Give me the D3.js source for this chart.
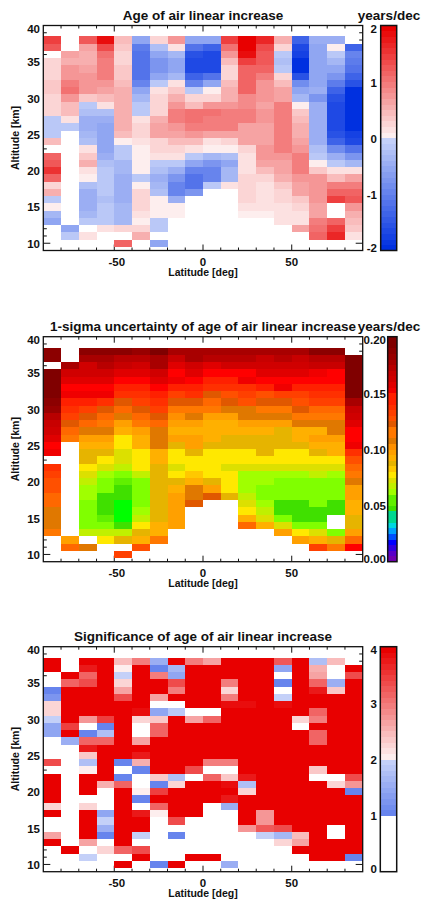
<!DOCTYPE html>
<html>
<head>
<meta charset="utf-8">
<script src="https://cdn.jsdelivr.net/npm/d3@7/dist/d3.min.js"></script>
<style>
  body { margin: 0; background: #fff; }
  svg text { font-family: "Liberation Sans", Arial, Helvetica, sans-serif; font-weight: bold; fill: #111; }
</style>
</head>
<body>
<svg id="chart" width="423" height="899"></svg>
<script>
// Latitude bins (lower edges, 10 deg wide) and altitude levels (1 km, top to bottom)
const latBins = d3.range(-90, 90, 10);
const altitudes = d3.range(38, 9, -1);   // 38 km ... 10 km
const latTicks = [-50, 0, 50];
const altTicks = [10, 15, 20, 25, 30, 35, 40];
const trendTicks = [-2, -1, 0, 1, 2];
const sigmaTicks = [0, 0.05, 0.10, 0.15, 0.20];
const signifTicks = [0, 1, 2, 3, 4];

// Age of air linear increase [years/dec]; one array per latitude bin, 38 km -> 10 km
const N = null;
const trend = [
  [1.45,1.25,N,0.2,0.2,0.2,0.35,0.35,0.25,0.2,0.2,-0.15,-0.15,-0.15,0.45,N,1.1,1.2,1.5,1.15,0.2,0.5,-0.15,0.05,-0.35,-0.55,N,N,N],
  [N,N,0.65,0.5,0.7,0.75,0.95,1.05,0.75,0.45,0.45,0.15,-0.15,N,N,N,N,N,N,N,N,N,N,N,N,N,-0.6,-0.15],
  [1.25,0.65,0.5,0.5,0.6,0.7,0.75,0.75,0.3,-0.15,-0.25,-0.45,-0.45,-0.35,-0.25,0.15,0.35,0.5,0.15,0.05,-0.25,-0.45,-0.45,-0.45,-0.35,-0.15,N,0.15,N],
  [1.8,1.3,1.05,0.9,0.9,0.9,0.75,0.65,0.4,0.15,-0.25,-0.45,-0.55,-0.55,-0.55,-0.55,-0.45,-0.3,-0.2,-0.2,-0.2,-0.2,-0.25,-0.2,-0.2,-0.2,0.15,N,N],
  [0.45,0.3,0.25,0.25,0.35,0.35,0.45,0.5,0.5,0.5,0.5,0.5,0.5,0.4,0.05,-0.2,-0.2,-0.35,-0.35,-0.45,-0.45,-0.45,-0.45,-0.35,-0.35,-0.35,0.25,N,1.1],
  [-0.55,-1.05,-1.2,-1.2,-1.2,-1.2,-0.95,-0.55,-0.35,-0.15,-0.15,0.15,0.25,0.25,0.15,0.05,0.05,0.05,0.05,-0.15,0.05,0.2,0.2,0.2,0.15,0.05,0.2,0.5,N],
  [0.25,-0.25,-0.55,-0.75,-0.75,-0.55,-0.15,0.15,0.2,0.25,0.25,0.5,0.6,0.6,0.25,0.25,0.15,-0.15,-0.25,-0.45,-0.35,-0.25,0.05,0.05,0.05,-0.15,-0.15,N,-0.55],
  [0.7,0.15,-0.35,-0.55,-0.55,-0.35,0.15,0.35,0.5,0.75,0.9,0.9,0.75,0.65,0.45,0.25,0.15,-0.15,-0.45,-0.75,-0.95,-0.95,-0.45,0.05,0.05,N,N,N,N],
  [-0.55,-1.2,-1.6,-1.7,-1.7,-1.4,-0.95,-0.15,0.25,0.45,1.0,1.05,0.9,0.75,0.45,0.15,-0.15,-0.55,-0.95,-1.2,-1.2,-0.75,N,N,N,N,N,N,N],
  [-0.55,-1.4,-1.7,-1.7,-1.7,-1.2,-0.55,0.05,0.25,0.7,1.05,0.95,0.9,0.65,0.15,0.05,-0.35,-0.75,-0.95,-0.95,-0.15,N,N,N,N,N,N,N,N],
  [1.45,1.05,0.7,0.45,0.25,0.25,0.45,0.5,0.5,0.75,0.9,0.9,0.9,0.65,0.2,0.05,-0.3,-0.55,-0.35,-0.35,0.15,N,N,N,N,N,N,N,N],
  [1.95,1.95,1.8,1.45,1.15,1.15,1.15,1.15,0.8,0.8,0.9,0.9,0.65,0.65,0.6,0.25,0.15,0.15,0.15,0.25,0.25,0.25,0.25,0.15,0.05,N,N,N,N],
  [1.65,1.35,1.25,1.25,1.15,0.9,0.75,0.75,0.75,0.65,0.75,0.75,0.65,0.65,0.65,0.75,0.7,0.6,0.45,0.25,0.15,0.15,0.15,0.15,0.05,N,N,N,N],
  [0.5,0.2,-0.2,-0.25,-0.15,0.2,0.45,0.6,0.65,0.9,0.9,0.9,0.9,0.9,0.9,0.9,0.75,0.65,0.65,0.5,0.35,0.25,0.25,0.15,0.15,0.15,N,N,N],
  [-1.4,-1.7,-1.75,-1.95,-1.95,-1.6,-0.85,-0.55,-0.35,0.05,0.35,0.45,0.5,0.5,0.65,0.75,0.9,0.9,0.9,0.75,0.65,0.65,0.35,0.2,0.15,0.15,0.6,N,N],
  [-0.45,-0.55,-0.55,-0.55,-0.55,-0.55,-0.55,-0.45,-0.75,-0.45,-0.45,-0.45,-0.45,-0.45,-0.45,-0.25,-0.15,0.05,0.35,0.7,0.7,0.75,0.75,0.65,0.65,0.9,1.05,1.1,N],
  [-0.45,0.05,-0.2,-0.35,-0.55,-0.75,-1.05,-1.4,-1.6,-1.7,-1.7,-1.7,-1.7,-1.6,-1.4,-0.85,-0.45,-0.15,0.15,0.45,0.95,1.15,1.45,N,N,1.15,1.45,1.6,N],
  [N,-1.4,-0.95,-1.05,-1.2,-1.4,-1.6,-1.95,-1.95,-1.95,-1.95,-1.95,-1.95,-1.8,-1.7,-1.2,-0.75,-0.35,0.15,0.65,0.95,1.15,1.25,0.75,0.5,0.45,0.35,0.15,N]
];

// 1-sigma uncertainty of the increase [years/dec]
const sigma = [
  [0.19,0.19,N,0.195,0.195,0.195,0.195,0.19,0.185,0.175,0.17,0.165,0.16,0.15,0.155,N,0.14,0.135,0.13,0.13,0.12,0.12,0.11,0.11,0.11,0.115,N,N,N],
  [N,N,0.18,0.165,0.16,0.15,0.155,0.145,0.14,0.135,0.125,0.12,0.115,N,N,N,N,N,N,N,N,N,N,N,N,N,0.1,0.12],
  [0.19,0.18,0.165,0.165,0.16,0.15,0.155,0.145,0.135,0.125,0.12,0.11,0.1,0.095,0.09,0.09,0.08,0.075,0.07,0.065,0.065,0.06,0.06,0.06,0.06,0.07,N,0.11,N],
  [0.19,0.18,0.175,0.165,0.16,0.15,0.155,0.14,0.125,0.12,0.115,0.11,0.1,0.095,0.09,0.08,0.075,0.065,0.06,0.06,0.05,0.05,0.05,0.055,0.06,0.07,0.08,N,N],
  [0.19,0.175,0.17,0.16,0.15,0.145,0.14,0.125,0.12,0.11,0.1,0.095,0.08,0.08,0.075,0.075,0.07,0.06,0.055,0.05,0.05,0.045,0.045,0.045,0.05,0.07,0.09,N,0.135],
  [0.185,0.175,0.165,0.16,0.15,0.145,0.14,0.135,0.125,0.12,0.115,0.1,0.095,0.095,0.08,0.08,0.08,0.07,0.06,0.06,0.06,0.06,0.065,0.07,0.08,0.09,0.095,0.13,N],
  [0.195,0.18,0.18,0.165,0.16,0.15,0.145,0.14,0.135,0.125,0.12,0.11,0.11,0.11,0.095,0.095,0.09,0.09,0.09,0.09,0.09,0.09,0.09,0.09,0.095,0.095,0.115,N,N],
  [0.18,0.17,0.16,0.15,0.155,0.145,0.135,0.125,0.115,0.105,0.1,0.095,0.1,0.09,0.08,0.08,0.075,0.08,0.09,0.095,0.1,0.1,0.1,0.1,0.1,N,N,N,N],
  [0.18,0.18,0.165,0.16,0.15,0.145,0.14,0.125,0.115,0.11,0.1,0.095,0.1,0.1,0.09,0.08,0.08,0.085,0.095,0.11,0.11,0.125,N,N,N,N,N,N,N],
  [0.18,0.175,0.16,0.15,0.145,0.14,0.125,0.12,0.115,0.1,0.095,0.095,0.095,0.09,0.08,0.08,0.08,0.08,0.09,0.1,0.125,N,N,N,N,N,N,N,N],
  [0.18,0.175,0.165,0.15,0.145,0.14,0.13,0.125,0.11,0.1,0.095,0.095,0.09,0.09,0.08,0.08,0.075,0.08,0.08,0.08,0.09,N,N,N,N,N,N,N,N],
  [0.18,0.175,0.165,0.15,0.155,0.14,0.135,0.13,0.11,0.11,0.1,0.095,0.09,0.09,0.08,0.08,0.075,0.065,0.065,0.065,0.07,0.075,0.08,0.095,0.12,N,N,N,N],
  [0.18,0.17,0.165,0.16,0.15,0.145,0.13,0.125,0.115,0.11,0.1,0.095,0.09,0.09,0.09,0.08,0.075,0.065,0.065,0.06,0.06,0.065,0.07,0.075,0.095,N,N,N,N],
  [0.18,0.175,0.165,0.16,0.15,0.155,0.135,0.125,0.115,0.11,0.1,0.09,0.09,0.09,0.08,0.08,0.075,0.065,0.06,0.06,0.06,0.05,0.05,0.06,0.075,0.1,N,N,N],
  [0.18,0.17,0.165,0.16,0.15,0.145,0.135,0.13,0.125,0.115,0.11,0.095,0.095,0.09,0.08,0.08,0.075,0.065,0.06,0.06,0.06,0.05,0.05,0.05,0.06,0.08,0.1,N,N],
  [0.19,0.175,0.17,0.155,0.15,0.145,0.14,0.135,0.12,0.115,0.11,0.095,0.1,0.095,0.09,0.08,0.075,0.07,0.06,0.06,0.06,0.06,0.05,0.05,0.06,0.075,0.095,0.135,N],
  [0.19,0.175,0.17,0.15,0.15,0.145,0.14,0.135,0.12,0.115,0.11,0.11,0.1,0.095,0.095,0.08,0.075,0.065,0.06,0.06,0.06,0.05,0.05,N,N,0.06,0.09,0.115,N],
  [N,0.195,0.195,0.195,0.195,0.195,0.195,0.18,0.17,0.165,0.16,0.15,0.15,0.155,0.14,0.13,0.12,0.115,0.11,0.1,0.1,0.095,0.095,0.09,0.09,0.1,0.12,0.15,N]
];

// Significance of the increase (trend / 1-sigma), shown up to 4
const signif = [
  [4,4,N,0.5,1.05,1.25,2.2,2.2,1.95,1.45,1.45,0.5,0.5,0.5,3.3,N,4,4,4,4,2.25,4,0.5,0.5,2.65,4,N,N,N],
  [N,N,4,3.1,4,4,4,4,4,3.4,4,1.55,0.5,N,N,N,N,N,N,N,N,N,N,N,N,N,4,0.5],
  [4,3.7,3.1,3.3,4,4,4,4,2.75,0.5,1.05,3.1,3.7,2.35,1.75,2.05,4,4,4,0.5,2.2,4,4,4,4,2.65,N,1.95,N],
  [4,4,4,4,4,4,4,4,3.45,1.05,1.75,3.1,4,4,4,4,4,2.5,0.5,0.5,0.5,1.45,1.95,1.55,1.05,0.5,2.2,N,N],
  [2.45,2.05,1.95,2.2,2.65,3.3,4,4,4,4,4,4,4,4,1.05,0.5,1.05,3.1,4,4,4,4,4,4,4,4,3.1,N,4],
  [2.9,4,4,4,4,4,4,3.8,2.2,0.5,0.5,2.65,4,3.75,2.55,1.05,0.5,0.5,2.05,1.05,0.5,3.7,4,4,1.95,0.5,3.3,4,N],
  [1.55,1.05,2.9,4,4,2.65,0.5,1.45,2.35,3.1,3.1,4,4,4,4,4,2.35,1.05,3.45,4,3.1,2.05,0.5,0.5,0.5,0.5,0.5,N,1.05],
  [4,1.65,1.45,3.3,2.9,4,0.5,1.85,4,4,4,4,4,4,4,4,1.75,2.2,4,4,4,4,3.35,0.5,1.05,N,N,N,4],
  [2.9,4,4,4,4,4,4,0.5,2.65,4,4,4,4,4,4,3.3,0.5,4,4,4,4,4,N,N,N,N,N,4,N],
  [2.65,4,4,4,4,4,4,0.5,3.1,4,4,4,4,4,2.9,0.5,3.1,4,4,4,0.5,N,N,N,N,N,N,4,N],
  [4,4,4,2.9,2.25,2.9,3.8,4,4,4,4,4,4,4,2.9,0.5,2.35,3.8,4,3.7,1.55,N,N,N,N,N,N,N,1.55],
  [4,4,4,4,4,4,3.8,4,4,4,4,4,4,4,4,4,3.7,1.75,2.25,4,4,4,4,2.75,0.5,N,N,N,N],
  [4,4,4,4,4,4,4,4,4,4,4,4,4,4,4,4,4,4,4,4,4,2.75,2.75,3.2,1.95,N,N,N,N],
  [3.2,1.45,0.5,1.05,0.5,1.95,3.8,4,4,4,4,4,4,4,4,4,4,4,4,4,4,4,4,3.3,1.65,2.2,N,N,N],
  [4,4,4,4,4,4,4,4,2.2,0.5,4,4,4,4,4,4,4,4,4,4,4,4,4,4,2.45,2.65,4,N,N],
  [1.75,2.5,2.65,3.1,3.7,4,4,3.1,2.9,4,3.1,3.1,4,4,4,2.3,0.5,4,4,4,4,4,4,4,4,4,4,4,N],
  [2.45,0.5,0.5,1.55,2.35,4,4,4,4,4,4,4,4,4,4,4,0.5,2.2,4,4,4,4,4,N,N,4,4,4,N],
  [N,4,3.35,4,4,4,4,4,4,4,4,4,4,4,4,4,3.35,2.75,1.05,4,4,4,4,4,4,4,4,1.05,N]
];

// ---- colour tables ----
// blue-white-red table in 0.1 steps from -2 to 2
function bwr(v) {
  let j = Math.floor(v * 10 + 1e-9);
  j = Math.max(-20, Math.min(19, j));
  if (j >= 0) {
    const t = j / 19;
    return d3.rgb(253 - 21 * t, 238 * (1 - t), 238 * (1 - t)).formatHex();
  }
  const t = (-j - 1) / 19;
  return d3.rgb(196 * (1 - t), 208 - 160 * t, 248 - 24 * t).formatHex();
}
// rainbow table for the uncertainty: 40 steps of 0.005 from 0 to 0.2
const rainbow = [
  "#7f7f7f","#7000b0","#5800c8","#3000e0","#0000ff","#0050ff","#00a0ff","#00d8e0","#00d890","#00ff00",
  "#40e000","#60f000","#80ff00","#a0ff00","#c0f000","#dce000","#ffe800","#ffc800","#e6b400","#ffb000",
  "#ffa000","#ff9000","#e07800","#ff7800","#ff6800","#e05800","#ff5000","#ff4000","#ff3000","#ff2000",
  "#ff0000","#f00000","#e00000","#d00000","#c80000","#b80000","#a80000","#980000","#8c0000","#800000"];
function rainbowColor(v) {
  const i = Math.max(0, Math.min(39, Math.round(v / 0.005)));
  return rainbow[i];
}
function sigColor(s) {
  if (s < 1) return "#ffffff";
  return bwr(Math.min(s, 4) - 2);
}

const svg = d3.select("#chart");
const x = d3.scaleLinear().domain([-90, 90]).range([43.3, 362.7]);
const plotH = 225;

const panels = [
  { top: 25.5, title: "Age of air linear increase", unit: "years/dec", data: trend, color: bwr,
    bar: { x0: 380.7, x1: 396.7, domain: [-2, 2], ticks: trendTicks, fmt: d => (d < 0 ? "-" : "") + Math.abs(d), labelX: 377,
           bands: d3.range(-20, 20).map(j => [j / 10, (j + 1) / 10]) } },
  { top: 336.7, title: "1-sigma uncertainty of age of air linear increase", unit: "years/dec", data: sigma, color: rainbowColor,
    bar: { x0: 387.7, x1: 397, domain: [0, 0.2], ticks: sigmaTicks, fmt: d3.format(".2f"), labelX: 386,
           bands: d3.range(0, 40).map(i => [i * 0.005, (i + 1) * 0.005]) } },
  { top: 646.7, title: "Significance of age of air linear increase", unit: null, data: signif, color: sigColor,
    bar: { x0: 380.3, x1: 396.7, domain: [0, 4], ticks: signifTicks, fmt: d3.format("d"), labelX: 377,
           bands: [[0, 1]].concat(d3.range(10, 40).map(i => [i / 10, (i + 1) / 10])) } }
];

panels.forEach(p => {
  const y = d3.scaleLinear().domain([9, 40]).range([p.top + plotH, p.top]);
  const g = svg.append("g");
  const x0 = x.range()[0], x1 = x.range()[1];
  const y0 = p.top + plotH, y1 = p.top;

  // ticks (inward), drawn below the cells
  const tk = g.append("g").attr("stroke", "#111").attr("stroke-width", 1);
  d3.range(-80, 90, 10).forEach(v => {
    const L = latTicks.includes(v) ? 6 : 3;
    tk.append("line").attr("x1", x(v)).attr("x2", x(v)).attr("y1", y0).attr("y2", y0 - L);
    tk.append("line").attr("x1", x(v)).attr("x2", x(v)).attr("y1", y1).attr("y2", y1 + L);
  });
  d3.range(10, 40, 1).forEach(v => {
    const L = altTicks.includes(v) ? 7 : 3.5;
    tk.append("line").attr("y1", y(v)).attr("y2", y(v)).attr("x1", x0).attr("x2", x0 + L);
    tk.append("line").attr("y1", y(v)).attr("y2", y(v)).attr("x1", x1).attr("x2", x1 - L);
  });

  // cells
  const cells = [];
  p.data.forEach((col, k) => col.forEach((v, r) => {
    if (v !== null) cells.push({ lat: latBins[k], alt: altitudes[r], v });
  }));
  g.append("g").attr("shape-rendering", "crispEdges").selectAll("rect").data(cells).join("rect")
    .attr("x", d => x(d.lat)).attr("width", d => x(d.lat + 10) - x(d.lat))
    .attr("y", d => y(d.alt + 0.5)).attr("height", d => y(d.alt - 0.5) - y(d.alt + 0.5))
    .attr("fill", d => p.color(d.v));

  // frame
  g.append("rect").attr("x", x0).attr("y", y1).attr("width", x1 - x0).attr("height", plotH)
    .attr("fill", "none").attr("stroke", "#111").attr("stroke-width", 1.3);

  // tick labels
  latTicks.forEach(v => {
    g.append("text").attr("x", x(v) + (v < 0 ? 2.5 : 0)).attr("y", y0 + 11).attr("text-anchor", "middle")
      .attr("dominant-baseline", "central").attr("font-size", 11.5).text(v < 0 ? "-" + Math.abs(v) : v);
  });
  altTicks.forEach(v => {
    g.append("text").attr("x", 40).attr("y", Math.max(y(v) + 0.5, y1 + 3)).attr("text-anchor", "end")
      .attr("dominant-baseline", "central").attr("font-size", 11.5).text(v);
  });
  g.append("text").attr("x", (x0 + x1) / 2).attr("y", y0 + 21.5).attr("text-anchor", "middle")
    .attr("dominant-baseline", "central").attr("font-size", 10.5).text("Latitude [deg]");
  g.append("text").attr("transform", `translate(15,${(y0 + y1) / 2}) rotate(-90)`).attr("text-anchor", "middle")
    .attr("dominant-baseline", "central").attr("font-size", 10.5).text("Altitude [km]");

  // title
  g.append("text").attr("x", (x0 + x1) / 2).attr("y", y1 - 10.5).attr("text-anchor", "middle")
    .attr("dominant-baseline", "central").attr("font-size", 13.5).text(p.title);
  if (p.unit) g.append("text").attr("x", 389).attr("y", y1 - 10.5).attr("text-anchor", "middle")
    .attr("dominant-baseline", "central").attr("font-size", 13.5).text(p.unit);

  // colour bar
  const b = p.bar;
  const cy = d3.scaleLinear().domain(b.domain).range([y0, y1]);
  g.append("g").attr("shape-rendering", "crispEdges").selectAll("rect").data(b.bands).join("rect")
    .attr("x", b.x0).attr("width", b.x1 - b.x0)
    .attr("y", d => cy(d[1])).attr("height", d => cy(d[0]) - cy(d[1]) + 0.3)
    .attr("fill", d => p.color((d[0] + d[1]) / 2));
  g.append("rect").attr("x", b.x0).attr("y", y1).attr("width", b.x1 - b.x0).attr("height", plotH)
    .attr("fill", "none").attr("stroke", "#111").attr("stroke-width", 1.5);
  b.ticks.forEach(t => {
    const ty = Math.min(Math.max(cy(t) + 1, y1 + 3.5), y0 - 3);
    g.append("text").attr("x", b.labelX).attr("y", ty).attr("text-anchor", "end")
      .attr("dominant-baseline", "central").attr("font-size", 11.5).text(b.fmt(t));
  });
});
</script>
</body>
</html>
